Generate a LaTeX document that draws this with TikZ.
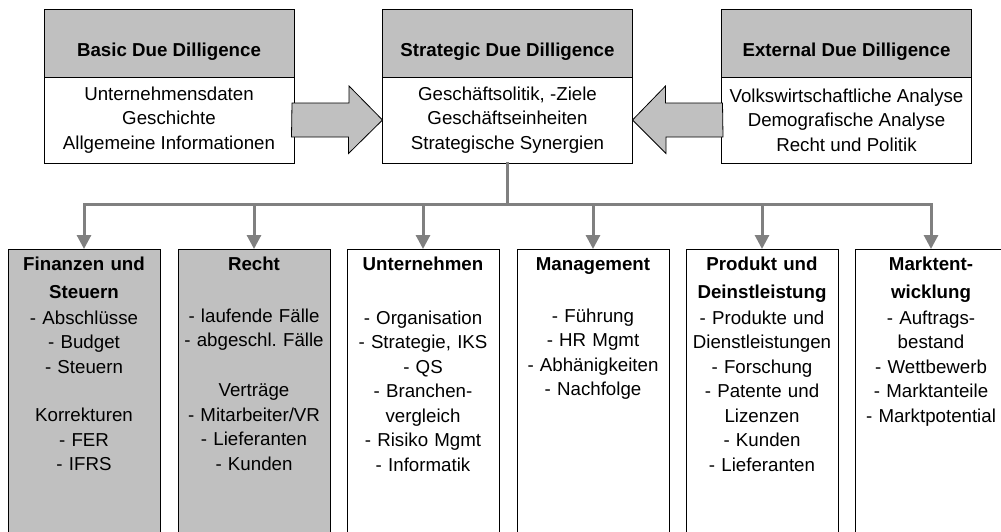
\documentclass[tikz,border=0pt]{standalone}
\usepackage{fontspec}
\setmainfont{Liberation Sans}
\usetikzlibrary{arrows.meta}
\definecolor{boxgray}{RGB}{192,192,192}
\definecolor{linegray}{RGB}{128,128,128}
\newcommand\ddfont{\fontsize{18.7}{24.5}\selectfont}
\frenchspacing
\begin{document}
\begin{tikzpicture}[x=1pt,y=-1pt,font=\ddfont,
  box/.style={draw=black,line width=0.8pt,inner sep=0pt,outer sep=0pt},
  head node/.style={box,fill=boxgray,font=\ddfont\bfseries,minimum width=250pt,minimum height=68pt,text height=27pt,text depth=0pt},
  top node/.style={box,fill=white,align=center,minimum width=250pt,minimum height=86pt},
  area node/.style={box,anchor=north,align=center,text width=152pt,text height=21pt,text depth=290pt},
  fat arrow/.style={draw=black,line width=0.8pt,fill=boxgray,line join=miter},
  tree/.style={draw=linegray,line width=3pt,line cap=rect},
  every edge/.style={tree,-{Triangle[width=14pt,length=14pt]}}]
  \useasboundingbox (0,0) rectangle (1001,531);

  \node[head node] (h1) at (169,43){Basic Due Dilligence};
  \node[head node] (h2) at (507.5,43){Strategic Due Dilligence};
  \node[head node] (h3) at (846.5,43){External Due Dilligence};
  \node[top node] (s1) at (169,120){Unternehmensdaten\\Geschichte\\Allgemeine Informationen};
  \node[top node] (s2) at (507.5,120){Geschäftsolitik, -Ziele\\Geschäftseinheiten\\Strategische Synergien};
  \node[top node] (s3) at (846.5,120){Volkswirtschaftliche Analyse\\Demografische Analyse\\Recht und Politik};

  \draw[fat arrow] ([xshift=-2pt]s1.east) ++(0,-17) -- ++(57,0) -- ++(0,-17) -- (s2.west)
    -- ++(-34,33.5) -- ++(0,-16.5) -- ++(-57,0) -- cycle;
  \draw[fat arrow] ([xshift=1pt]s3.west) ++(0,-17) -- ++(-57,0) -- ++(0,-17) -- (s2.east)
    -- ++(33.5,33.5) -- ++(0,-16.5) -- ++(57,0) -- cycle;

  \node[area node,fill=boxgray] (1) at (84,249){\textbf{Finanzen und}\\[3.5pt]\textbf{Steuern}\\[1.5pt]- Abschlüsse\\- Budget\\- Steuern\\[24pt]Korrekturen\\- FER\\- IFRS};
  \node[area node,fill=boxgray] (2) at (254,249){\textbf{Recht}\\[27.5pt]- laufende Fälle\\- abgeschl. Fälle\\[25.5pt]Verträge\\- Mitarbeiter/VR\\- Lieferanten\\- Kunden};
  \node[area node,fill=white] (3) at (423,249){\textbf{Unternehmen}\\[29.5pt]- Organisation\\- Strategie, IKS\\- QS\\- Branchen-\\vergleich\\- Risiko Mgmt\\- Informatik};
  \node[area node,fill=white] (4) at (593,249){\textbf{Management}\\[27.5pt]- Führung\\- HR Mgmt\\- Abhänigkeiten\\- Nachfolge};
  \node[area node,fill=white] (5) at (762,249){\textbf{Produkt und}\\[3.5pt]\textbf{Deinstleistung}\\[1.5pt]- Produkte und\\Dienstleistungen\\- Forschung\\- Patente und\\Lizenzen\\- Kunden\\- Lieferanten};
  \node[area node,fill=white] (6) at (931,249){\textbf{Marktent-}\\[3.5pt]\textbf{wicklung}\\[1.5pt]- Auftrags-\\bestand\\- Wettbewerb\\- Marktanteile\\- Marktpotential};

  \coordinate (j) at (507.5,204);
  \draw[tree] (s2.south) -- (j);
  \draw[tree] (1.north |- j) -- (6.north |- j);
  \path (1.north |- j) edge (1.north)
   (2.north |- j) edge (2.north)
   (3.north |- j) edge (3.north)
   (4.north |- j) edge (4.north)
   (5.north |- j) edge (5.north)
   (6.north |- j) edge (6.north);
\end{tikzpicture}
\end{document}
